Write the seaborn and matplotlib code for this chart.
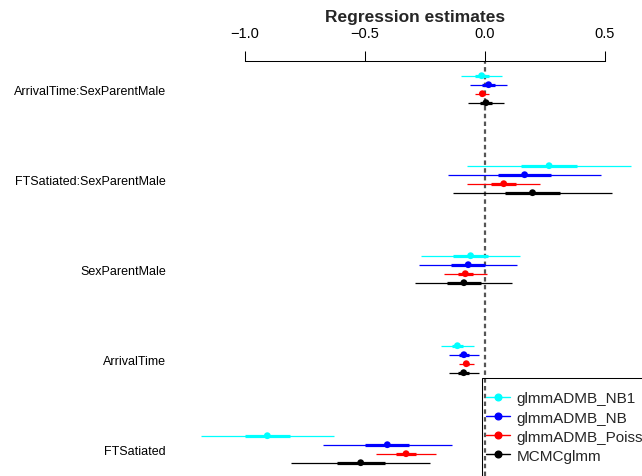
import numpy as np
import pandas as pd
import matplotlib
matplotlib.use("Agg")
import matplotlib.pyplot as plt
from matplotlib.patches import Rectangle
from matplotlib.lines import Line2D
import seaborn as sns

# ---- data ----
terms = ["ArrivalTime:SexParentMale", "FTSatiated:SexParentMale",
         "SexParentMale", "ArrivalTime", "FTSatiated"]
models = ["glmmADMB_NB1", "glmmADMB_NB", "glmmADMB_Poisson", "MCMCglmm"]
colors = ["#00FFFF", "#0000FF", "#FF0000", "#000000"]

est_NB1 = [-0.014, 0.267, -0.060, -0.115, -0.907]
se_NB1 = [0.044, 0.175, 0.106, 0.035, 0.141]
est_NB = [0.015, 0.165, -0.070, -0.088, -0.407]
se_NB = [0.040, 0.163, 0.104, 0.032, 0.137]
est_Pois = [-0.011, 0.078, -0.082, -0.078, -0.329]
se_Pois = [0.015, 0.077, 0.046, 0.016, 0.064]
est_MCMC = [0.004, 0.198, -0.088, -0.089, -0.518]
se_MCMC = [0.039, 0.168, 0.103, 0.032, 0.148]

xticks = [-1.0, -0.5, 0.0, 0.5]

ests = [est_NB1, est_NB, est_Pois, est_MCMC]
ses = [se_NB1, se_NB, se_Pois, se_MCMC]

rows = []
for i, m in enumerate(models):
    for j, t in enumerate(terms):
        rows.append(dict(model=m, term=t, est=ests[i][j], se=ses[i][j],
                         y=j + 1 + (i - 1.5) * 0.1))
df = pd.DataFrame(rows)
df["lo95"] = df["est"] - 1.96 * df["se"]
df["hi95"] = df["est"] + 1.96 * df["se"]
df["lo50"] = df["est"] - 0.674 * df["se"]
df["hi50"] = df["est"] + 0.674 * df["se"]

sns.set_style("white")
plt.rcParams["font.family"] = ["Liberation Sans", "DejaVu Sans"]

W, H = 642, 477
fig = plt.figure(figsize=(W / 100, H / 100), dpi=100)
left_px, top_px = 170, 62
ax = fig.add_axes([left_px / W, 0, (W - left_px) / W, (H - top_px) / H])
ax.set_facecolor("none")

# scales
ax.set_xlim((left_px - 485) / 240, (W - 485) / 240)
ytop = 1 - 28.2 / 90
ax.set_ylim(ytop + (H - top_px) / 90, ytop)

# zero line
ax.axvline(0, color="#555555", ls=(0, (2.0, 1.5)), lw=1.6, zorder=1)

pal = dict(zip(models, colors))
for m in models:
    d = df[df.model == m]
    ax.hlines(d["y"], d["lo95"], d["hi95"], color=pal[m], lw=0.9, zorder=2, clip_on=False)
    ax.hlines(d["y"], d["lo50"], d["hi50"], color=pal[m], lw=2.3, zorder=2, clip_on=False)

sns.scatterplot(data=df, x="est", y="y", hue="model", palette=pal, s=24,
                edgecolor="none", linewidth=0, legend=False, ax=ax, zorder=3)

# axes styling
for s in ["left", "right", "bottom"]:
    ax.spines[s].set_visible(False)
ax.spines["top"].set_bounds(-1.0, 0.5)
ax.spines["top"].set_color("black")
ax.spines["top"].set_linewidth(0.75)
ax.xaxis.tick_top()
ax.set_xticks(xticks)
ax.set_xticklabels(["\u22121.0", "\u22120.5", "0.0", "0.5"])
ax.tick_params(axis="x", direction="out", length=7.2, width=0.75, color="black",
               pad=8, labelsize=10.5, top=True, bottom=False, labelcolor="black")
ax.set_yticks(range(1, len(terms) + 1))
ax.set_yticklabels(terms)
ax.tick_params(axis="y", length=0, pad=3, labelsize=9, labelcolor="black")
ax.set_xlabel("")
ax.set_ylabel("")
ax.grid(False)

fig.text(415 / W, 1 - 21.7 / H, "Regression estimates", ha="center", va="baseline",
         fontweight="bold", fontsize=12.5)

# legend
handles = [Line2D([], [], color=c, marker="o", markersize=4.8, lw=1.0) for c in colors]
fig.legend(handles, models, loc="upper left",
           bbox_to_anchor=(486 / W, 1 - 392.5 / H), frameon=False, fontsize=11,
           handlelength=1.6, handletextpad=0.4, labelspacing=0.33,
           borderpad=0, borderaxespad=0)
fig.add_artist(Rectangle((482 / W, -0.05), 0.6, (H - 379) / H + 0.05,
                         transform=fig.transFigure, fill=False, ec="black", lw=0.75))

fig.savefig("out.png", dpi=100)
